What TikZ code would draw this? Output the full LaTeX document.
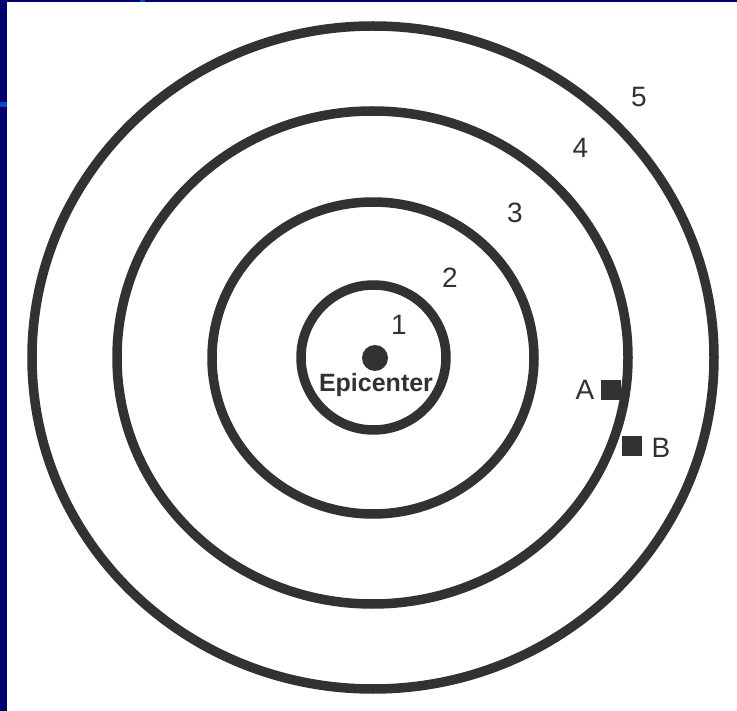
\documentclass[tikz,border=0pt]{standalone}
\usepackage{fontspec}
\setmainfont{Liberation Sans}
\definecolor{navy}{RGB}{0,0,110}
\definecolor{markblue}{RGB}{0,70,210}
\definecolor{ink}{RGB}{50,50,50}
\begin{document}
\begin{tikzpicture}[x=1pt,y=-1pt,
  ring/.style={draw=ink,line width=9.5pt},
  lbl/.style={anchor=base,inner sep=0pt,text=ink,font=\fontsize{28}{30}\selectfont},
  station/.style={fill=ink,draw=none,minimum size=20pt,inner sep=0pt},
  dot/.style={circle,fill=ink,draw=none,minimum size=26pt,inner sep=0pt}]
\useasboundingbox (0,0) rectangle (737,711);
\fill[white] (0,0) rectangle (737,711);
% frame strips
\fill[navy] (0,0) rectangle (7,711);
\fill[navy] (0,0) rectangle (737,2);
\fill[markblue] (140,0) rectangle (145,2);
\fill[markblue] (0,102) rectangle (7,107);
% rings
\draw[ring] (373.5,357.5) ellipse [x radius=72.5pt, y radius=72.5pt];
\draw[ring] (373,358) ellipse [x radius=161pt, y radius=156pt];
\draw[ring] (372.5,357.5) ellipse [x radius=255.5pt, y radius=246.5pt];
\draw[ring] (373,357.5) ellipse [x radius=341pt, y radius=331.5pt];
% epicenter
\node[dot] (epi) at (375,358) {};
\node[anchor=base,inner sep=0pt,text=ink,font=\bfseries\fontsize{25}{27}\selectfont] (epilbl) at (376,392) {Epicenter};
% zone numbers
\node[lbl] (n1) at (399,335) {1};
\node[lbl] (n2) at (450,288) {2};
\node[lbl] (n3) at (515,223) {3};
\node[lbl] (n4) at (580.5,158) {4};
\node[lbl] (n5) at (639,107) {5};
% stations
\node[station] (sA) at (611,390) {};
\node[station] (sB) at (632,446) {};
\node[lbl] (lA) at (585,400) {A};
\node[lbl] (lB) at (661,457) {B};
\end{tikzpicture}
\end{document}
